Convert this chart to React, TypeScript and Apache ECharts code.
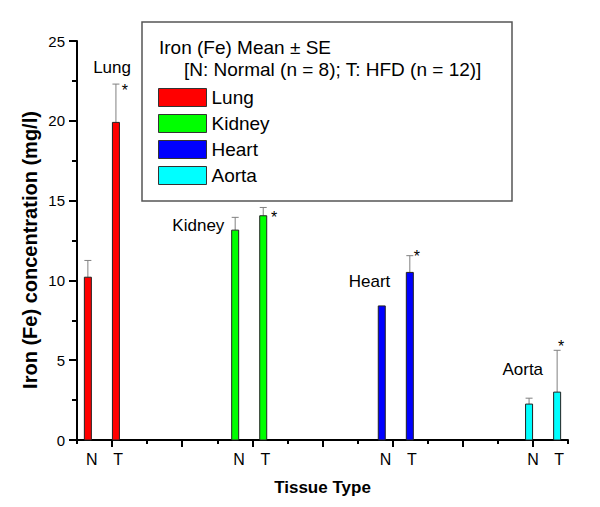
import React, { useEffect, useRef } from "react";
import * as echarts from "echarts";

// ---- Data ----
const tissues = ["Lung", "Kidney", "Heart", "Aorta"];
const meanNormal = [10.2, 13.15, 8.4, 2.25];
const seNormal = [1.05, 0.8, 0, 0.37];
const meanHFD = [19.9, 14.05, 10.5, 3.0];
const seHFD = [2.4, 0.52, 1.05, 2.62];
const sigHFD = [1, 1, 1, 1];
// bar positions on the (numeric) tissue-type axis
const posNormal = [0.31, 4.51, 8.69, 12.89];
const posHFD = [1.11, 5.31, 9.49, 13.69];
const yTicks = [0, 5, 10, 15, 20, 25];

// ---- Styling / layout constants ----
const COLORS = ["#ff0000", "#00ff00", "#0000ff", "#00ffff"];
const FONT = "'Liberation Sans', Arial, Helvetica, sans-serif";
const LABEL_SHIFT = [0.11, 0.06]; // N, T label shift (axis units)
// group name anchors in data space [x, y]
const NAME_ANCHORS = [
  [1.0, 23.37],
  [3.46, 13.41],
  [8.34, 9.9],
  [12.71, 4.39],
];
// star offsets from error-cap (px)
const STAR_OFFSETS = [
  [9, 3],
  [11, 6],
  [7, -3],
  [4, -8],
];

export default function App() {
  const ref = useRef<HTMLDivElement>(null);

  useEffect(() => {
    if (!ref.current) return;
    const chart = echarts.init(ref.current, undefined, { renderer: "svg" });

    const labelValues: number[] = [];
    const labelText: string[] = [];
    tissues.forEach((_, i) => {
      labelValues.push(posNormal[i] + LABEL_SHIFT[0]);
      labelText.push("N");
      labelValues.push(posHFD[i] + LABEL_SHIFT[1]);
      labelText.push("T");
    });

    const series = tissues.map((name, si) => ({
      name,
      type: "custom",
      coordinateSystem: "cartesian2d",
      xAxisIndex: 0,
      yAxisIndex: 0,
      clip: false,
      itemStyle: { color: COLORS[si] },
      encode: { x: 0, y: 1 },
      data: [
        [posNormal[si], meanNormal[si], seNormal[si], 0],
        [posHFD[si], meanHFD[si], seHFD[si], sigHFD[si]],
      ],
      renderItem: (params: any, api: any) => {
        const x = api.value(0);
        const v = api.value(1);
        const e = api.value(2);
        const sig = api.value(3);
        const top = api.coord([x, v]);
        const base = api.coord([x, 0]);
        const w = 7;
        const children: any[] = [];
        if (e > 0) {
          const et = api.coord([x, v + e]);
          children.push({
            type: "line",
            shape: { x1: top[0], y1: top[1], x2: et[0], y2: et[1] },
            style: { stroke: "#808080", lineWidth: 1 },
          });
          children.push({
            type: "line",
            shape: { x1: et[0] - 3.5, y1: et[1], x2: et[0] + 3.5, y2: et[1] },
            style: { stroke: "#808080", lineWidth: 1 },
          });
          if (sig) {
            const off = STAR_OFFSETS[params.seriesIndex];
            children.push({
              type: "text",
              x: et[0] + off[0],
              y: et[1] + off[1] + 3.7,
              style: {
                text: "*",
                fontSize: 16,
                fontFamily: FONT,
                fill: "#000",
                align: "center",
                verticalAlign: "middle",
              },
            });
          }
        }
        children.push({
          type: "rect",
          shape: { x: top[0] - w / 2, y: top[1], width: w, height: base[1] - top[1] },
          style: { fill: COLORS[params.seriesIndex], stroke: "#222", lineWidth: 1 },
        });
        if (params.dataIndex === 0) {
          const a = api.coord(NAME_ANCHORS[params.seriesIndex]);
          children.push({
            type: "text",
            x: a[0],
            y: a[1],
            style: {
              text: name,
              fontSize: 17,
              fontFamily: FONT,
              fill: "#000",
              align: "center",
              verticalAlign: "middle",
            },
          });
        }
        return { type: "group", children };
      },
    }));

    const option: any = {
      animation: false,
      backgroundColor: "#ffffff",
      textStyle: { fontFamily: FONT },
      grid: { left: 77, top: 41, width: 491, height: 399, containLabel: false },
      xAxis: [
        {
          type: "value",
          min: 0,
          max: 14,
          interval: 1,
          axisLine: { show: true, onZero: false, lineStyle: { color: "#000", width: 2 } },
          axisTick: { show: true, length: 4, lineStyle: { color: "#000", width: 2 } },
          axisLabel: { show: false },
          splitLine: { show: false },
        },
        {
          type: "value",
          min: 0,
          max: 14,
          position: "bottom",
          axisLine: { show: false },
          axisTick: {
            show: true,
            length: 7,
            customValues: [1, 3, 5, 7, 9, 11, 13],
            lineStyle: { color: "#000", width: 2 },
          },
          axisLabel: {
            show: true,
            customValues: labelValues,
            margin: 11,
            fontSize: 16,
            color: "#000",
            fontFamily: FONT,
            formatter: (val: number) => {
              let best = 0;
              let bd = Infinity;
              labelValues.forEach((lv, k) => {
                const d = Math.abs(lv - val);
                if (d < bd) {
                  bd = d;
                  best = k;
                }
              });
              return labelText[best];
            },
          },
          splitLine: { show: false },
          name: "Tissue Type",
          nameLocation: "middle",
          nameGap: 39,
          nameTextStyle: { fontSize: 17, fontWeight: "bold", color: "#000", fontFamily: FONT },
        },
      ],
      yAxis: {
        type: "value",
        min: yTicks[0],
        max: yTicks[yTicks.length - 1],
        interval: yTicks[1] - yTicks[0],
        axisLine: { show: true, lineStyle: { color: "#000", width: 2 } },
        axisTick: { show: true, length: 8, lineStyle: { color: "#000", width: 2 } },
        minorTick: { show: true, splitNumber: 2, length: 5, lineStyle: { color: "#000", width: 2 } },
        axisLabel: { fontSize: 15, color: "#000", margin: 12, fontFamily: FONT },
        splitLine: { show: false },
      },
      legend: {
        orient: "vertical",
        left: 158,
        top: 88,
        padding: 0,
        itemWidth: 48,
        itemHeight: 18,
        itemGap: 7,
        selectedMode: false,
        textStyle: { fontSize: 19, color: "#000", fontFamily: FONT },
        data: tissues.map((t, i) => ({
          name: t,
          icon: "rect",
          itemStyle: { color: COLORS[i], borderColor: "#333", borderWidth: 1 },
        })),
      },
      graphic: [
        {
          type: "rect",
          shape: { x: 142, y: 22, width: 370, height: 179 },
          style: { fill: "none", stroke: "#555", lineWidth: 1.5 },
          z: 0,
        },
        {
          type: "text",
          x: 159,
          y: 47.5,
          style: {
            text: "Iron (Fe) Mean \u00b1 SE",
            fontSize: 19,
            fontFamily: FONT,
            fill: "#000",
            align: "left",
            verticalAlign: "middle",
          },
        },
        {
          type: "text",
          x: 184,
          y: 69.5,
          style: {
            text: "[N: Normal (n = 8); T: HFD (n = 12)]",
            fontSize: 19,
            fontFamily: FONT,
            fill: "#000",
            align: "left",
            verticalAlign: "middle",
          },
        },
        {
          type: "text",
          x: 30,
          y: 250,
          rotation: Math.PI / 2,
          style: {
            text: "Iron (Fe) concentration (mg/l)",
            fontSize: 20,
            fontWeight: "bold",
            fontFamily: FONT,
            fill: "#000",
            align: "center",
            verticalAlign: "middle",
          },
        },
      ],
      series,
    };

    chart.setOption(option);
    return () => chart.dispose();
  }, []);

  return (
    <div
      ref={ref}
      style={{ position: "fixed", left: 0, top: 0, width: 600, height: 507, background: "#fff" }}
    />
  );
}
